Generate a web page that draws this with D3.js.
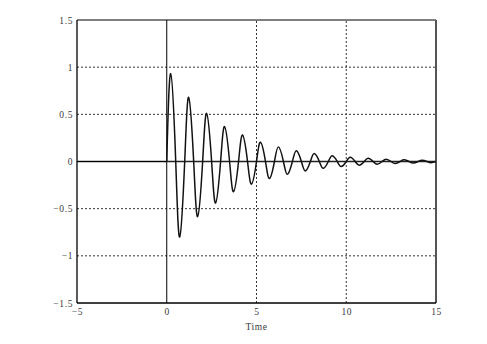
<!DOCTYPE html>
<html>
<head>
<meta charset="utf-8">
<script src="https://cdn.jsdelivr.net/npm/d3@7"></script>
<style>
  html, body { margin: 0; padding: 0; background: #fff; }
  svg { display: block; }
  text { font-family: "Liberation Serif", "DejaVu Serif", serif; }
</style>
</head>
<body>
<svg id="chart" width="487" height="344"></svg>
<script>
// ---- data ----
const xTicks = [-5, 0, 5, 10, 15];
const yTicks = [-1.5, -1, -0.5, 0, 0.5, 1, 1.5];
const xGrid = [5, 10];
const yGrid = [-1, -0.5, 0.5, 1];
const xLabel = "Time";

// flat part (t < 0)
const flatTime = [-5, 0];
const flatValue = [0, 0];

// response: zero crossings and extrema, in time order
const respTime = [0, 0.22, 0.5, 0.72, 1.0, 1.22, 1.5, 1.72, 2.0, 2.22, 2.5, 2.72, 3.0, 3.22, 3.5, 3.72,
  4.0, 4.22, 4.5, 4.72, 5.0, 5.22, 5.5, 5.72, 6.0, 6.22, 6.5, 6.72, 7.0, 7.22, 7.5, 7.72,
  8.0, 8.22, 8.5, 8.72, 9.0, 9.22, 9.5, 9.72, 10.0, 10.22, 10.5, 10.72, 11.0, 11.22, 11.5, 11.72,
  12.0, 12.22, 12.5, 12.72, 13.0, 13.22, 13.5, 13.72, 14.0, 14.22, 14.5, 14.72, 15.0];
const respValue = [0, 0.93, 0, -0.80, 0, 0.68, 0, -0.585, 0, 0.51, 0, -0.44, 0, 0.37, 0, -0.32,
  0, 0.28, 0, -0.24, 0, 0.205, 0, -0.18, 0, 0.155, 0, -0.135, 0, 0.115, 0, -0.10,
  0, 0.085, 0, -0.072, 0, 0.062, 0, -0.053, 0, 0.046, 0, -0.04, 0, 0.034, 0, -0.029,
  0, 0.025, 0, -0.021, 0, 0.018, 0, -0.016, 0, 0.014, 0, -0.012, 0];

// ---- drawing ----
const svg = d3.select("#chart");
const x = d3.scaleLinear().domain([-5, 15]).range([77, 436]);
const y = d3.scaleLinear().domain([-1.5, 1.5]).range([303, 20]);
const fmt = d => String(d).replace("-", "\u2212");
const FONT = '"Liberation Serif", "DejaVu Serif", serif';
const FS = 9.5, LS = "0.6px", TXT = "#3a3a3a";

// grid
const g = svg.append("g");
g.selectAll(".vg").data(xGrid).enter().append("line")
  .attr("x1", d => x(d)).attr("x2", d => x(d))
  .attr("y1", y(-1.5)).attr("y2", y(1.5))
  .attr("stroke", "#333").attr("stroke-width", 1).attr("stroke-dasharray", "2,2");
g.selectAll(".hg").data(yGrid).enter().append("line")
  .attr("x1", x(-5)).attr("x2", x(15))
  .attr("y1", d => y(d)).attr("y2", d => y(d))
  .attr("stroke", "#333").attr("stroke-width", 1).attr("stroke-dasharray", "2,2");

// frame
svg.append("line").attr("x1", x(-5)).attr("x2", x(15)).attr("y1", y(1.5)).attr("y2", y(1.5))
  .attr("stroke", "#000").attr("stroke-width", 1);
svg.append("line").attr("x1", x(15)).attr("x2", x(15)).attr("y1", y(1.5)).attr("y2", y(-1.5))
  .attr("stroke", "#555").attr("stroke-width", 2);
svg.append("line").attr("x1", x(-5)).attr("x2", x(-5)).attr("y1", y(1.5)).attr("y2", y(-1.5))
  .attr("stroke", "#000").attr("stroke-width", 1.3);
svg.append("line").attr("x1", x(-5)).attr("x2", x(15)).attr("y1", y(-1.5)).attr("y2", y(-1.5))
  .attr("stroke", "#000").attr("stroke-width", 1.3);

// zero axes
svg.append("line").attr("x1", x(0)).attr("x2", x(0)).attr("y1", y(1.5)).attr("y2", y(-1.5))
  .attr("stroke", "#000").attr("stroke-width", 1);
svg.append("line").attr("x1", x(-5)).attr("x2", x(15)).attr("y1", y(0)).attr("y2", y(0))
  .attr("stroke", "#222").attr("stroke-width", 1.6);

// axes labels
const xAxis = d3.axisBottom(x).tickValues(xTicks).tickSize(0).tickPadding(5).tickFormat(fmt);
const gx = svg.append("g").attr("transform", `translate(0,${y(-1.5)})`).call(xAxis);
gx.select(".domain").remove();
gx.selectAll("text").attr("font-size", FS).attr("fill", TXT)
  .style("font-family", FONT).style("letter-spacing", LS);

const yAxis = d3.axisLeft(y).tickValues(yTicks).tickSize(0).tickPadding(4).tickFormat(fmt);
const gy = svg.append("g").attr("transform", `translate(${x(-5)},0)`).call(yAxis);
gy.select(".domain").remove();
gy.selectAll("text").attr("font-size", FS).attr("fill", TXT)
  .style("font-family", FONT).style("letter-spacing", LS);

svg.append("text").attr("x", (x(-5) + x(15)) / 2).attr("y", 330)
  .attr("text-anchor", "middle").attr("font-size", FS).attr("fill", TXT)
  .style("font-family", FONT).style("letter-spacing", LS).text(xLabel);

// signal
const line = d3.line().x(d => x(d[0])).y(d => y(d[1])).curve(d3.curveNatural);
const flat = flatTime.map((t, i) => [t, flatValue[i]]);
const resp = respTime.map((t, i) => [t, respValue[i]]);
svg.append("path").datum(flat).attr("d", d3.line().x(d => x(d[0])).y(d => y(d[1])))
  .attr("fill", "none").attr("stroke", "#000").attr("stroke-width", 1.2);
svg.append("path").datum(resp).attr("d", line)
  .attr("fill", "none").attr("stroke", "#111").attr("stroke-width", 1.5);
</script>
</body>
</html>
